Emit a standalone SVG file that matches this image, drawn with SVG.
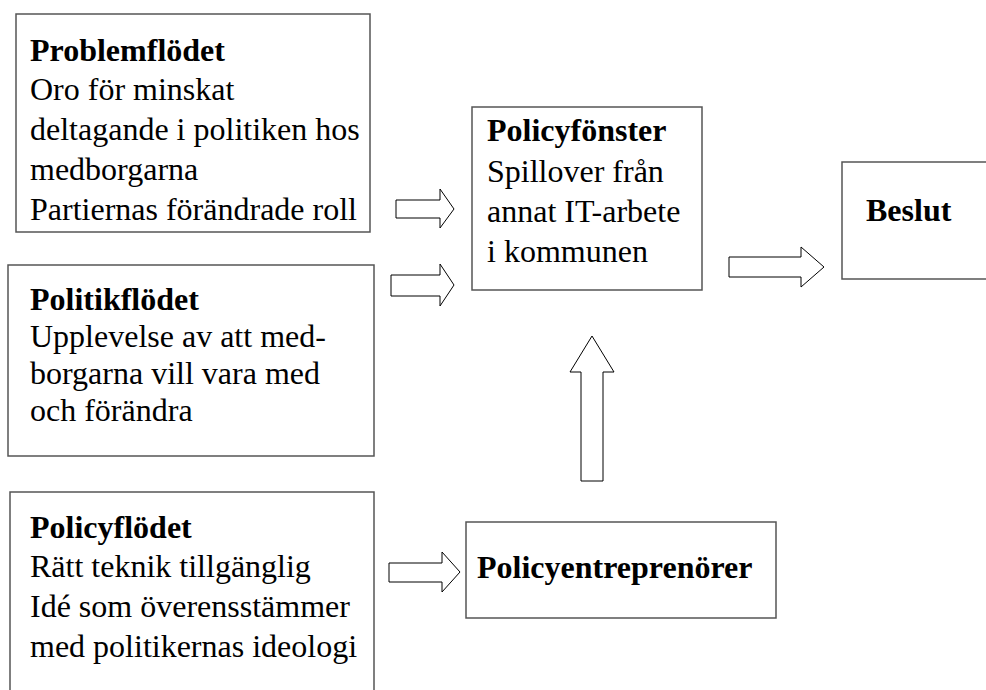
<svg xmlns="http://www.w3.org/2000/svg" width="986" height="690" viewBox="0 0 986 690">
<style>
.box{fill:#fff;stroke:#555;stroke-width:1.5}
.arr{fill:#fff;stroke:#000;stroke-width:1}
.t{font-family:'Liberation Serif','Times New Roman','DejaVu Serif',serif;font-size:32px;fill:#000}
.b{font-weight:bold}
</style>
<rect width="986" height="690" fill="#fff"/>
<g id="problemflodet">
<rect class="box" x="16" y="14" width="354" height="218"/>
<text class="t b" x="30" y="61">Problemflödet</text>
<text class="t" x="30" y="100">Oro för minskat</text>
<text class="t" x="30" y="140">deltagande i politiken hos</text>
<text class="t" x="30" y="180">medborgarna</text>
<text class="t" x="30" y="220">Partiernas förändrade roll</text>
</g>
<g id="politikflodet">
<rect class="box" x="8" y="265" width="366" height="191"/>
<text class="t b" x="30" y="310">Politikflödet</text>
<text class="t" x="30" y="347">Upplevelse av att med-</text>
<text class="t" x="30" y="384">borgarna vill vara med</text>
<text class="t" x="30" y="421">och förändra</text>
</g>
<g id="policyflodet">
<rect class="box" x="10" y="492" width="364" height="220"/>
<text class="t b" x="30" y="538">Policyflödet</text>
<text class="t" x="30" y="577">Rätt teknik tillgänglig</text>
<text class="t" x="30" y="617">Idé som överensstämmer</text>
<text class="t" x="30" y="657">med politikernas ideologi</text>
</g>
<g id="policyfonster">
<rect class="box" x="472" y="107" width="230" height="183"/>
<text class="t b" x="487" y="141">Policyfönster</text>
<text class="t" x="487" y="182">Spillover från</text>
<text class="t" x="487" y="222">annat IT-arbete</text>
<text class="t" x="487" y="262">i kommunen</text>
</g>
<g id="beslut">
<rect class="box" x="842" y="162" width="200" height="117"/>
<text class="t b" x="866" y="221">Beslut</text>
</g>
<g id="policyentreprenorer">
<rect class="box" x="466" y="522" width="310" height="96"/>
<text class="t b" x="477" y="578">Policyentreprenörer</text>
</g>
<g id="connectors">
<polygon class="arr" points="396,200 440,200 440,189 454,209 440,228 440,218 396,218"/>
<polygon class="arr" points="391,275 440,275 440,264 454,285 440,306 440,296 391,296"/>
<polygon class="arr" points="729,257 801,257 801,247 824,267 801,287 801,277 729,277"/>
<polygon class="arr" points="389,563 442,563 442,552 460,572 442,592 442,582 389,582"/>
<polygon class="arr" points="581,481 581,372 570,372 592,336 614,372 603,372 603,481"/>
</g>
</svg>
